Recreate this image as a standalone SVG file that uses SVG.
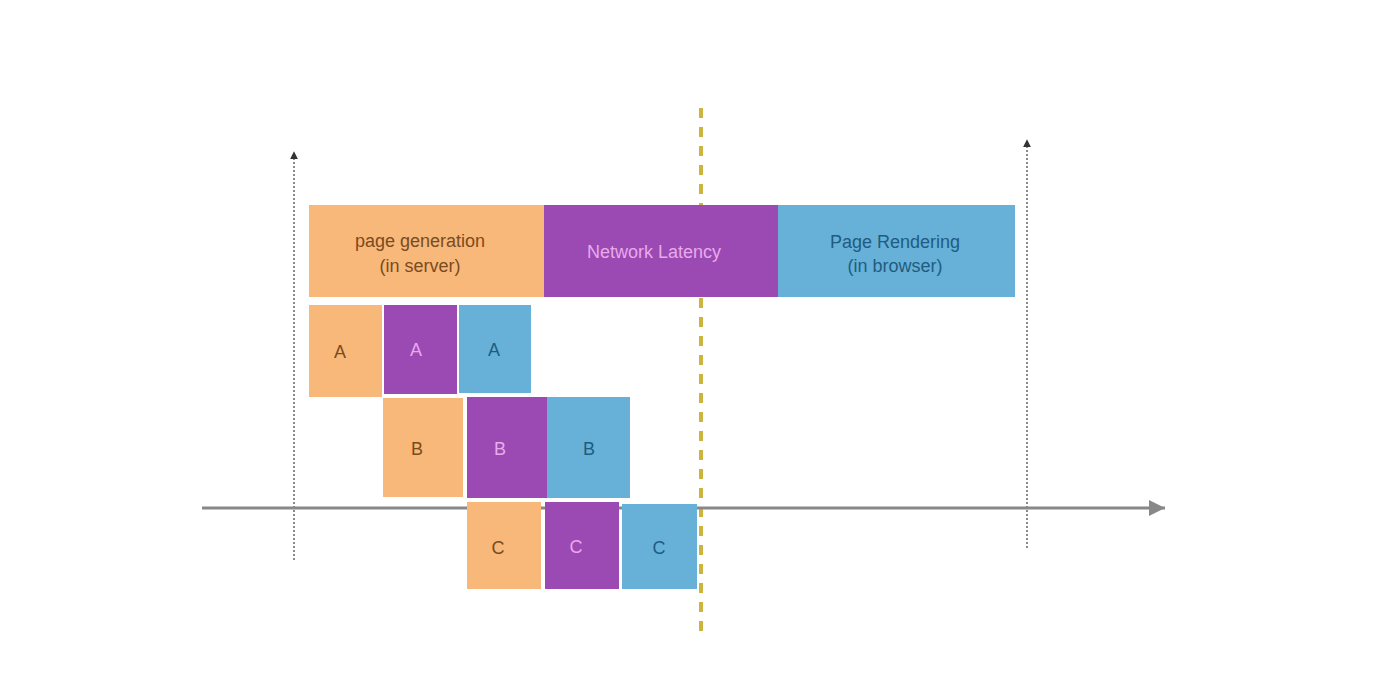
<svg xmlns="http://www.w3.org/2000/svg" width="1392" height="686" viewBox="0 0 1392 686">
<style>
text{font-family:"Liberation Sans",Arial,sans-serif;text-anchor:middle;dominant-baseline:central}
.o{fill:#F8B87A}.p{fill:#9A4AB2}.b{fill:#67B1D8}
.to{fill:#7A4B1E;font-size:18px}.tp{fill:#E9A9EC;font-size:18px}.tb{fill:#1F5C80;font-size:18px}
.vd{stroke:#8a8a8a;stroke-width:2;stroke-dasharray:2 2;fill:none}
</style>
<defs>
<marker id="ah" viewBox="0 0 10 10" refX="9" refY="5" markerWidth="8" markerHeight="8" markerUnits="userSpaceOnUse" orient="auto"><path d="M0,0 L10,5 L0,10 z" fill="#333"/></marker>
<marker id="ax" viewBox="0 0 16 16" refX="16" refY="8" markerWidth="16" markerHeight="16" markerUnits="userSpaceOnUse" orient="auto"><path d="M0,0 L16,8 L0,16 z" fill="#888"/></marker>
</defs>
<rect width="1392" height="686" fill="#fff"/>
<g id="axes">
<line class="vd" x1="294" y1="560" x2="294" y2="152" marker-end="url(#ah)"/>
<line class="vd" x1="1027" y1="548" x2="1027" y2="140" marker-end="url(#ah)"/>
</g>
<g id="marker-line">
<line x1="701" y1="108" x2="701" y2="632" stroke="#CDB43E" stroke-width="4" stroke-dasharray="10 9"/>
</g>
<g id="top-bars">
<g id="page-generation"><rect class="o" x="309" y="205" width="235" height="92"/><text class="to" x="420" y="241">page generation</text><text class="to" x="420" y="266">(in server)</text></g>
<g id="network-latency"><rect class="p" x="544" y="205" width="234" height="92"/><text class="tp" x="654" y="252">Network Latency</text></g>
<g id="page-rendering"><rect class="b" x="778" y="205" width="237" height="92"/><text class="tb" x="895" y="242">Page Rendering</text><text class="tb" x="895" y="266">(in browser)</text></g>
</g>
<g id="row-a">
<g id="a1"><rect class="o" x="309" y="305" width="73" height="92"/><text class="to" x="340" y="352">A</text></g>
<g id="a2"><rect class="p" x="384" y="305" width="73" height="89"/><text class="tp" x="416" y="350">A</text></g>
<g id="a3"><rect class="b" x="459" y="305" width="72" height="88"/><text class="tb" x="494" y="350">A</text></g>
</g>
<g id="connectors">
<line x1="202" y1="508" x2="1165" y2="508" stroke="#888" stroke-width="3" marker-end="url(#ax)"/>
</g>
<g id="row-b">
<g id="b1"><rect class="o" x="383" y="398" width="80" height="99"/><text class="to" x="417" y="449">B</text></g>
<g id="b2"><rect class="p" x="467" y="397" width="80" height="101"/><text class="tp" x="500" y="449">B</text></g>
<g id="b3"><rect class="b" x="547" y="397" width="83" height="101"/><text class="tb" x="589" y="449">B</text></g>
</g>
<g id="row-c">
<g id="c1"><rect class="o" x="467" y="502" width="74" height="87"/><text class="to" x="498" y="548">C</text></g>
<g id="c2"><rect class="p" x="545" y="502" width="74" height="87"/><text class="tp" x="576" y="547">C</text></g>
<g id="c3"><rect class="b" x="622" y="504" width="75" height="85"/><text class="tb" x="659" y="548">C</text></g>
</g>
</svg>
